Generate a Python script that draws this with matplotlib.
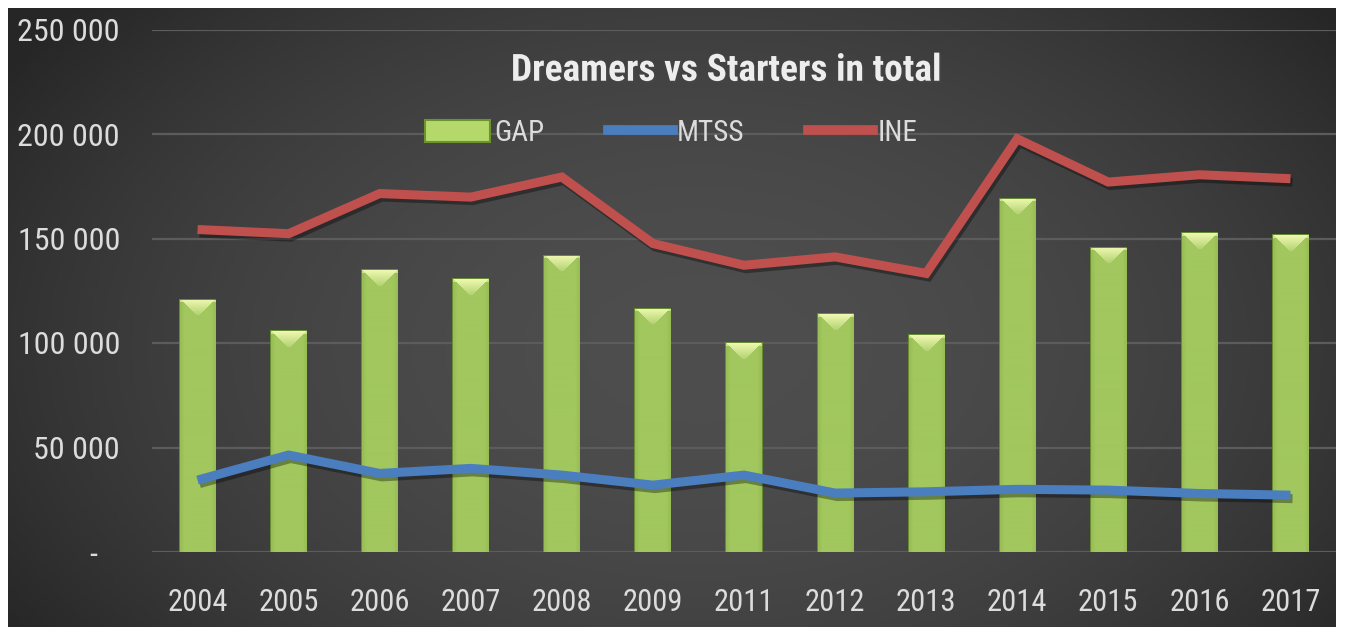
import numpy as np
import matplotlib
matplotlib.use("Agg")
import matplotlib.pyplot as plt
import matplotlib.patheffects as pe
from matplotlib import font_manager as fm
from matplotlib.patches import Rectangle
from matplotlib.lines import Line2D
from matplotlib.ticker import FuncFormatter
from matplotlib.textpath import TextPath

# ---- data ----
years = ["2004", "2005", "2006", "2007", "2008", "2009", "2011",
         "2012", "2013", "2014", "2015", "2016", "2017"]
gap = [120800, 105600, 134800, 130500, 141800, 116500, 99800,
       113800, 103700, 169100, 145600, 152600, 151500]
mtss = [34400, 46400, 37600, 40000, 36800, 32000, 36800,
        28200, 28800, 30000, 29600, 28000, 27200]
ine = [154300, 152300, 171500, 169800, 179400, 147600, 137200,
       141200, 133300, 197700, 177000, 180500, 178600]
yticks = [0, 50000, 100000, 150000, 200000, 250000]
title = "Dreamers vs Starters in total"

# ---- pick a narrow font if available ----
chosen = None
stretch = "normal"
for cand in ["Liberation Sans Narrow", "DejaVu Sans Condensed", "Roboto Condensed",
             "Open Sans Condensed", "Noto Sans Condensed"]:
    try:
        fm.findfont(fm.FontProperties(family=cand), fallback_to_default=False)
        chosen = cand
        break
    except Exception:
        pass
if chosen is None:
    try:
        f = fm.findfont(fm.FontProperties(family="DejaVu Sans", stretch="condensed"),
                        fallback_to_default=False)
        if "ondensed" in f:
            chosen, stretch = "DejaVu Sans", "condensed"
    except Exception:
        pass
if chosen is None:
    chosen = "Roboto"
FONT = [chosen, "DejaVu Sans"]
plt.rcParams['font.family'] = FONT
plt.rcParams['font.stretch'] = stretch


def fit(s, target_px, weight="normal", maxpt=None):
    fp = fm.FontProperties(family=FONT, weight=weight, stretch=stretch)
    w = TextPath((0, 0), s, size=100, prop=fp).get_extents().width
    pt = 100 * target_px / (w * 100 / 72.0)
    if maxpt:
        pt = min(pt, maxpt)
    return pt


W, H = 1348, 636
fig = plt.figure(figsize=(W / 100, H / 100), dpi=100)
fig.patch.set_facecolor("white")

# ---- dark gradient background ----
bx0, by0, bx1, by1 = 8, 8, 1336, 627
bg = fig.add_axes([bx0 / W, (H - by1) / H, (bx1 - bx0) / W, (by1 - by0) / H])
bg.set_axis_off()
gx = np.linspace(0, 1, 400)
gy = np.linspace(0, 1, 200)
X, Y = np.meshgrid(gx, gy)
r = np.sqrt(((X - 0.52) / 0.62) ** 2 + ((Y - 0.55) / 0.85) ** 2)
v = 0.15 + 0.155 * np.clip(1 - r ** 2, 0, 1)
img = np.dstack([v, v, v])
bg.imshow(img, aspect="auto", extent=(0, 1, 0, 1), origin="upper")
bg.set_xlim(0, 1)
bg.set_ylim(0, 1)

# ---- main axes ----
ax_l, ax_r, ax_t, ax_b = 152, 1336, 29.5, 552
ax = fig.add_axes([ax_l / W, (H - ax_b) / H, (ax_r - ax_l) / W, (ax_b - ax_t) / H])
ax.set_facecolor("none")
x = np.arange(len(years))

tick_pt = fit("250 000", 100, maxpt=23)
year_pt = fit("2004", 58, maxpt=23)

for s in ax.spines.values():
    s.set_visible(False)
ax.set_yticks(yticks)
ax.yaxis.grid(True, color="#5c5c5c", linewidth=1.6)
ax.set_axisbelow(True)
ax.tick_params(axis="both", length=0, colors="#dcdcdc")
ax.tick_params(axis="y", pad=23, labelsize=tick_pt)
ax.tick_params(axis="x", pad=26, labelsize=year_pt)
ax.yaxis.set_major_formatter(FuncFormatter(
    lambda v, p: "-   " if v == 0 else f"{int(v):,}".replace(",", " ")))
ax.set_xticks(x)
ax.set_xticklabels(years)

# bars
px_per_unit = (ax_b - ax_t) / 250000.0
bars = ax.bar(x, gap, width=0.385, color="#9fc45a", edgecolor="#6b9330",
              linewidth=1.3, zorder=2)
base = np.array(matplotlib.colors.to_rgb("#a1c75e"))
light = np.array(matplotlib.colors.to_rgb("#eef8b0"))
dark = np.array(matplotlib.colors.to_rgb("#86ad42"))
for rect in bars:
    hpx = int(max(rect.get_height() * px_per_unit, 2))
    wpx = 36
    col = np.zeros((hpx, wpx, 4))
    xs = np.linspace(-1, 1, wpx)
    side = np.clip(np.abs(xs) - 0.75, 0, None) / 0.25
    for i in range(hpx):
        rowc = np.tile(base, (wpx, 1))
        rowc = rowc * (1 - 0.35 * side[:, None]) + dark * 0.35 * side[:, None]
        if i < 16:
            half = 1.0 - i / 17.0
            m = (np.abs(xs) < half).astype(float) * (1 - i / 20.0)
            if i < 3:
                m = np.maximum(m, 0.6)
            rowc = rowc * (1 - m[:, None]) + light * m[:, None]
        col[i, :, :3] = rowc
        col[i, :, 3] = 1
    x0 = rect.get_x()
    im = ax.imshow(col, extent=(x0, x0 + rect.get_width(), 0, rect.get_height()),
                   aspect="auto", origin="upper", zorder=2.1, interpolation="bilinear")
    im.set_clip_path(rect)
ax.set_xlim(-0.5, len(years) - 0.5)
ax.set_ylim(0, 250000)

shadow = [pe.SimpleLineShadow(offset=(1.5, -2.5), shadow_color="black", alpha=0.35),
          pe.Normal()]
ax.plot(x, mtss, color="#4a7ebf", linewidth=6.5, solid_joinstyle="miter",
        solid_capstyle="butt", zorder=3, path_effects=shadow)
ax.plot(x, ine, color="#c0504d", linewidth=6.5, solid_joinstyle="miter",
        solid_capstyle="butt", zorder=3, path_effects=shadow)

# title
title_pt = fit(title, 514, weight="bold", maxpt=27)
ax.text(0.4855, 0.922, title, transform=ax.transAxes, ha="center", va="center",
        fontsize=title_pt, fontweight="bold", color="#ededed", family=FONT,
        fontstretch=stretch,
        path_effects=[pe.withSimplePatchShadow(offset=(1.5, -1.5), alpha=0.6)],
        zorder=5)

# legend
leg_pt = fit("MTSS", 64, maxpt=23)
handles = [Rectangle((0, 0), 1, 1, facecolor="#b5d86a", edgecolor="#6b9330", linewidth=1.5),
           Line2D([0], [0], color="#4a7ebf", linewidth=7),
           Line2D([0], [0], color="#c0504d", linewidth=7)]
leg = ax.legend(handles, ["GAP", "MTSS", "INE"], loc="center",
                bbox_to_anchor=(0.4385, 0.802), ncol=3, frameon=False,
                prop=fm.FontProperties(family=FONT, size=leg_pt, stretch=stretch),
                handlelength=65 / (leg_pt * 100 / 72), handleheight=0.8,
                handletextpad=0.15, columnspacing=63 / (leg_pt * 100 / 72),
                labelcolor="#dcdcdc")

fig.savefig("out.png", dpi=100, facecolor="white")
